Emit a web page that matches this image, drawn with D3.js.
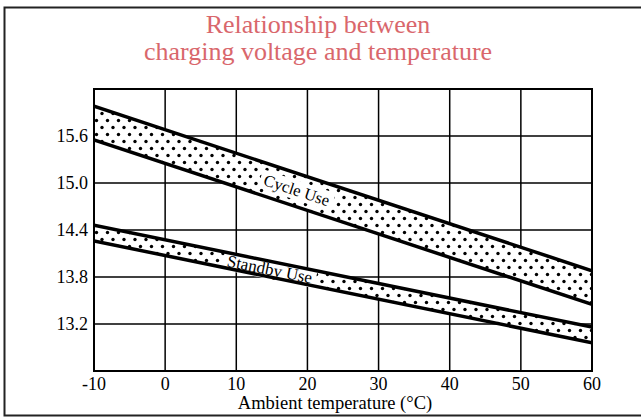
<!DOCTYPE html>
<html>
<head>
<meta charset="utf-8">
<script src="https://cdn.jsdelivr.net/npm/d3@7"></script>
<style>
  body { margin: 0; background: #fff; }
  text { font-family: "Liberation Serif", "DejaVu Serif", serif; }
</style>
</head>
<body>
<div id="chart"></div>
<script>
// data
var temps = [-10, 60];
var cycleUpper = [15.98, 13.88];
var cycleLower = [15.55, 13.45];
var standbyUpper = [14.46, 13.16];
var standbyLower = [14.26, 12.96];
var xTicks = [-10, 0, 10, 20, 30, 40, 50, 60];
var yTicks = [13.2, 13.8, 14.4, 15.0, 15.6];
var yGrid = [12.6, 13.2, 13.8, 14.4, 15.0, 15.6, 16.2];
var bandLabels = ["Cycle Use", "Standby Use"];
var labelTemps = [18.5, 14.7];

var W = 641, H = 417;
var margin = {top: 89, right: 49, bottom: 46, left: 94},
    width = W - margin.left - margin.right,
    height = H - margin.top - margin.bottom;

var svg = d3.select("#chart").append("svg")
    .attr("width", W)
    .attr("height", H);

// outer frame (top, left, bottom)
svg.append("path")
    .attr("d", "M641,7.5 H4.5 V415.5 H641")
    .attr("fill", "none")
    .attr("stroke", "#222")
    .attr("stroke-width", 2);

// Title
var title = svg.append("text")
    .attr("x", 318)
    .attr("y", 33)
    .attr("text-anchor", "middle")
    .style("font-size", "26px")
    .attr("fill", "#d9676c");
title.append("tspan").attr("x", 318).text("Relationship between");
title.append("tspan").attr("x", 318).attr("dy", 27).text("charging voltage and temperature");

var defs = svg.append("defs");
var pat = defs.append("pattern")
    .attr("id", "dots")
    .attr("patternUnits", "userSpaceOnUse")
    .attr("width", 11)
    .attr("height", 14);
pat.append("circle").attr("cx", 2.5).attr("cy", 3.5).attr("r", 1.7).attr("fill", "#000");
pat.append("circle").attr("cx", 8).attr("cy", 10.5).attr("r", 1.7).attr("fill", "#000");

defs.append("clipPath").attr("id", "plotclip")
    .append("rect").attr("width", width).attr("height", height);

var g = svg.append("g")
    .attr("transform", "translate(" + margin.left + "," + margin.top + ")");

var x = d3.scaleLinear().domain([-10, 60]).range([0, width]);
var y = d3.scaleLinear().domain([12.6, 16.2]).range([height, 0]);

// Grid
g.selectAll(".vgrid").data(xTicks).enter().append("line")
    .attr("x1", d => x(d)).attr("x2", d => x(d))
    .attr("y1", 0).attr("y2", height)
    .attr("stroke", "#000").attr("stroke-width", 1.5);
g.selectAll(".hgrid").data(yGrid).enter().append("line")
    .attr("x1", 0).attr("x2", width)
    .attr("y1", d => y(d)).attr("y2", d => y(d))
    .attr("stroke", "#000").attr("stroke-width", 1.5);

// Bands
var bands = [
    {name: bandLabels[0], upper: cycleUpper, lower: cycleLower, at: labelTemps[0], fs: 16.5},
    {name: bandLabels[1], upper: standbyUpper, lower: standbyLower, at: labelTemps[1], fs: 17}
];

var plot = g.append("g").attr("clip-path", "url(#plotclip)");

bands.forEach(function(b) {
    var pts = temps.map((t, i) => [x(t), y(b.upper[i])])
        .concat(temps.slice().reverse().map((t, i) => [x(t), y(b.lower[temps.length - 1 - i])]));
    plot.append("path")
        .attr("d", "M" + pts.join("L") + "Z")
        .attr("fill", "#fff");
    plot.append("path")
        .attr("d", "M" + pts.join("L") + "Z")
        .attr("fill", "url(#dots)");

    // label, rotated along band, white box behind
    var interp = function(arr, t) {
        return arr[0] + (arr[1] - arr[0]) * (t - temps[0]) / (temps[1] - temps[0]);
    };
    var lx = x(b.at);
    var ly = (y(interp(b.upper, b.at)) + y(interp(b.lower, b.at))) / 2;
    var ang = Math.atan2(y(b.upper[1]) - y(b.upper[0]), x(temps[1]) - x(temps[0])) * 180 / Math.PI;
    var lg = plot.append("g")
        .attr("transform", "translate(" + lx + "," + ly + ") rotate(" + ang + ")");
    var t = lg.append("text")
        .attr("text-anchor", "middle")
        .attr("dy", "0.35em")
        .style("font-size", b.fs + "px")
        .text(b.name);
    var bb = t.node().getBBox();
    lg.insert("rect", "text")
        .attr("x", bb.x - 4).attr("y", bb.y)
        .attr("width", bb.width + 8).attr("height", bb.height)
        .attr("fill", "#fff");

    var line = d3.line().x(d => x(d[0])).y(d => y(d[1]));
    plot.append("path")
        .attr("d", line(temps.map((t, i) => [t, b.upper[i]])))
        .attr("stroke", "#000").attr("stroke-width", 3.5).attr("fill", "none");
    plot.append("path")
        .attr("d", line(temps.map((t, i) => [t, b.lower[i]])))
        .attr("stroke", "#000").attr("stroke-width", 3.5).attr("fill", "none");
});

// plot border
g.append("rect")
    .attr("width", width).attr("height", height)
    .attr("fill", "none").attr("stroke", "#000").attr("stroke-width", 2);

// Axes labels
g.selectAll(".xt").data(xTicks).enter().append("text")
    .attr("x", d => x(d))
    .attr("y", height + 19)
    .attr("text-anchor", "middle")
    .style("font-size", "18px")
    .text(d => d);

g.selectAll(".yt").data(yTicks).enter().append("text")
    .attr("x", -6)
    .attr("y", d => y(d))
    .attr("dy", "0.35em")
    .attr("text-anchor", "end")
    .style("font-size", "18px")
    .text(d => d.toFixed(1));

svg.append("text")
    .attr("x", 335)
    .attr("y", 409)
    .attr("text-anchor", "middle")
    .style("font-size", "18.5px")
    .text("Ambient temperature (\u00B0C)");
</script>
</body>
</html>
